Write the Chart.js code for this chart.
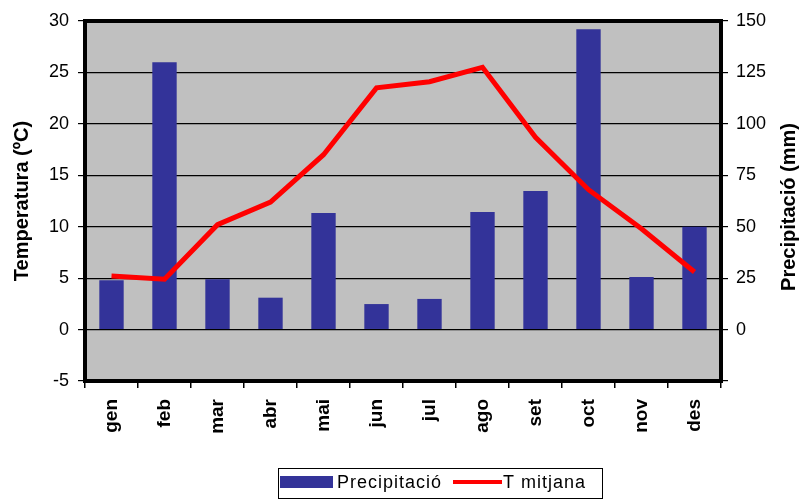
<!DOCTYPE html>
<html>
<head>
<meta charset="utf-8">
<title>Climograma</title>
<script src="https://cdn.jsdelivr.net/npm/chart.js@4/dist/chart.umd.min.js"></script>
<style>
  html, body { margin: 0; padding: 0; background: #fff; }
  #wrap { width: 802px; height: 500px; }
</style>
</head>
<body>
<div id="wrap"><canvas id="c" width="802" height="500"></canvas></div>
<script>
// Monthly climate data
const months = ['gen', 'feb', 'mar', 'abr', 'mai', 'jun', 'jul', 'ago', 'set', 'oct', 'nov', 'des'];
const precipitacio = [24, 130, 24.5, 15.5, 56.7, 12.4, 14.9, 57.2, 67.4, 146, 25.6, 50];   // mm
const tMitjana = [5.2, 4.9, 10.2, 12.4, 17.0, 23.5, 24.1, 25.5, 18.7, 13.6, 9.8, 5.6];      // ºC

const tempRange = [-5, 30];
const precRange = [-25, 150];

const FONT = '"Liberation Sans", Arial, sans-serif';
const BLUE = '#333399';
const RED = '#ff0000';

// Grey plot background, heavy frame, right-hand title and boxed legend
const decor = {
  id: 'decor',
  beforeDraw(chart) {
    const { ctx, chartArea: a } = chart;
    ctx.save();
    ctx.fillStyle = '#c0c0c0';
    ctx.fillRect(a.left, a.top, a.right - a.left, a.bottom - a.top);
    ctx.restore();
  },
  afterDatasetsDraw(chart) {
    const { ctx, chartArea: a } = chart;
    ctx.save();
    ctx.strokeStyle = '#000';
    ctx.lineWidth = 4;
    ctx.strokeRect(a.left, a.top, a.right - a.left, a.bottom - a.top);
    ctx.restore();
  },
  afterDraw(chart) {
    const { ctx, chartArea: a } = chart;
    const ds = chart.data.datasets;
    ctx.save();
    // right axis title, reading bottom to top
    ctx.translate(789, 207);
    ctx.rotate(-Math.PI / 2);
    ctx.font = 'bold 20px ' + FONT;
    ctx.fillStyle = '#000';
    ctx.textAlign = 'center';
    ctx.textBaseline = 'middle';
    ctx.fillText(chart.options.scales.yP.title.text, 0, 0);
    ctx.restore();

    // legend
    const bar = ds.find(d => d.type === 'bar');
    const line = ds.find(d => d.type === 'line');
    ctx.save();
    ctx.strokeStyle = '#000';
    ctx.lineWidth = 1;
    ctx.strokeRect(278.5, 468.5, 324, 30);
    ctx.fillStyle = bar.backgroundColor;
    ctx.fillRect(280, 476, 53, 12);
    ctx.font = '18px ' + FONT;
    ctx.letterSpacing = '1px';
    ctx.fillStyle = '#000';
    ctx.textBaseline = 'middle';
    ctx.textAlign = 'left';
    ctx.fillText(bar.label, 337, 483);
    ctx.strokeStyle = line.borderColor;
    ctx.lineWidth = 4;
    ctx.beginPath();
    ctx.moveTo(453, 482);
    ctx.lineTo(502, 482);
    ctx.stroke();
    ctx.fillText(line.label, 503, 483);
    ctx.restore();
  }
};

new Chart(document.getElementById('c'), {
  data: {
    labels: months,
    datasets: [
      {
        type: 'line',
        label: 'T mitjana',
        data: tMitjana,
        yAxisID: 'yT',
        borderColor: RED,
        borderWidth: 5,
        pointRadius: 0,
        tension: 0,
        order: 0
      },
      {
        type: 'bar',
        label: 'Precipitació',
        data: precipitacio,
        yAxisID: 'yP',
        backgroundColor: BLUE,
        borderWidth: 0,
        categoryPercentage: 1,
        barPercentage: 0.46,
        order: 1
      }
    ]
  },
  options: {
    responsive: false,
    animation: false,
    devicePixelRatio: 1,
    layout: { padding: { top: 21, left: 0, right: 0, bottom: 0 } },
    plugins: {
      legend: { display: false },
      tooltip: { enabled: false }
    },
    scales: {
      x: {
        offset: true,
        border: { display: false },
        grid: { offset: true, drawOnChartArea: false, color: '#000', lineWidth: 1.5, tickLength: 7 },
        ticks: {
          minRotation: 90, maxRotation: 90, padding: 11,
          color: '#000', font: { family: FONT, size: 19, weight: 'bold' }
        },
        afterFit(s) { s.height = 119; }
      },
      yT: {
        position: 'left',
        min: tempRange[0], max: tempRange[1],
        border: { display: false },
        grid: { color: '#000', lineWidth: 1.2, tickLength: 7 },
        ticks: { stepSize: 5, padding: 9, color: '#000', font: { family: FONT, size: 18 } },
        title: {
          display: true, text: 'Temperatura (ºC)', color: '#000',
          font: { family: FONT, size: 20, weight: 'bold' }, padding: { top: 10, bottom: 0 }
        },
        afterFit(s) { s.width = 85; }
      },
      yP: {
        position: 'right',
        min: precRange[0], max: precRange[1],
        border: { display: false },
        grid: { drawOnChartArea: false, color: '#000', lineWidth: 1.2, tickLength: 7 },
        ticks: {
          stepSize: 25, padding: 8, color: '#000', font: { family: FONT, size: 18 },
          callback: v => (v < 0 ? '' : v)
        },
        title: { display: false, text: 'Precipitació (mm)' },
        afterFit(s) { s.width = 81; }
      }
    }
  },
  plugins: [decor]
});
</script>
</body>
</html>
